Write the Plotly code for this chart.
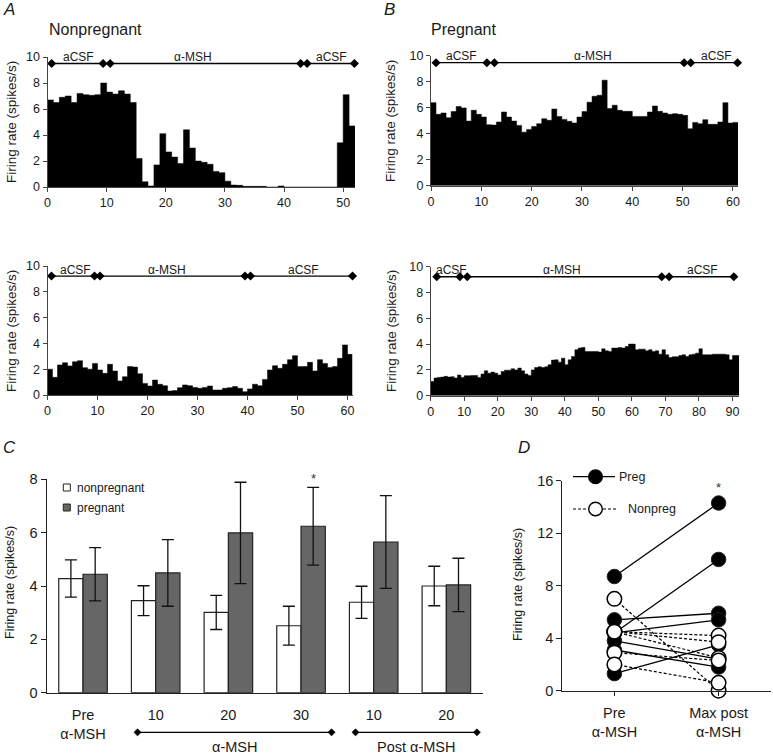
import plotly.graph_objects as go

# ---------------- data ----------------
# Panel A / B: firing-rate histograms (1-min bins), spikes/s
A_TOP_RATE = [6.7, 6.5, 6.9, 7.0, 6.5, 7.2, 7.1, 7.05, 7.1, 8.0,
              7.3, 7.15, 7.4, 7.15, 6.5, 2.2, 0.4, 0.08, 1.7, 4.1,
              2.7, 2.3, 1.8, 4.4, 3.0, 2.0, 1.9, 1.75, 1.2, 1.1,
              0.45, 0.15, 0.13, 0.05, 0.05, 0.05, 0.05, 0, 0, 0.08,
              0, 0, 0, 0, 0, 0, 0, 0, 0, 3.4,
              7.1, 4.7]
B_TOP_RATE = [6.39, 5.49, 5.59, 5.23, 5.7, 6.1, 5.98, 4.97, 5.8, 5.49,
              5.28, 4.69, 4.66, 4.9, 5.67, 5.28, 4.97, 4.64, 4.12, 4.33,
              4.56, 4.77, 5.15, 5.03, 5.9, 5.33, 5.1, 4.95, 4.82, 5.28,
              5.7, 6.42, 6.88, 6.96, 8.12, 5.93, 6.19, 5.8, 5.72, 5.72,
              5.33, 5.33, 5.33, 5.67, 6.13, 5.72, 5.59, 5.49, 5.54, 5.49,
              5.41, 4.38, 4.87, 4.77, 5.08, 4.72, 4.72, 4.9, 6.39, 4.82,
              4.87]
A_BOTTOM_RATE = [2.0, 1.37, 2.33, 2.5, 2.25, 2.58, 2.66, 2.12, 2.0, 2.45,
                 1.94, 1.68, 2.38, 1.86, 1.09, 1.42, 2.2, 2.17, 1.65, 0.9,
                 0.7, 1.16, 0.83, 0.72, 0.31, 0.34, 0.57, 0.78, 0.72, 0.59,
                 0.52, 0.59, 0.7, 0.39, 0.39, 0.52, 0.57, 0.65, 0.52, 0.26,
                 0.47, 0.83, 0.72, 1.21, 1.94, 2.27, 2.07, 2.38, 2.74, 3.05,
                 2.2, 2.2, 2.53, 1.86, 2.74, 2.45, 2.14, 2.2, 2.84, 3.88,
                 3.15]
B_BOTTOM_RATE = [1.1, 1.37, 1.42, 1.44, 1.5, 1.44, 1.47, 1.37, 1.6, 1.42,
                 1.55, 1.55, 1.57, 1.57, 1.42, 1.68, 1.93, 1.75, 1.83, 1.75,
                 1.6, 1.88, 1.98, 1.98, 2.09, 2.0, 2.14, 1.93, 1.68, 1.57,
                 2.0, 2.19, 2.24, 2.19, 2.24, 2.4, 2.76, 2.78, 2.6, 2.91,
                 2.4, 2.78, 3.04, 3.56, 3.69, 3.74, 3.43, 3.43, 3.43, 3.43,
                 3.38, 3.63, 3.48, 3.43, 3.69, 3.69, 3.74, 3.69, 3.81, 4.0,
                 4.0, 3.56, 3.61, 3.61, 3.48, 3.56, 3.43, 3.48, 3.22, 3.56,
                 3.17, 2.96, 3.02, 3.02, 3.12, 3.17, 3.04, 3.17, 3.22, 3.3,
                 3.63, 3.17, 3.17, 3.17, 3.22, 3.22, 3.22, 3.22, 3.17, 2.78,
                 3.12, 3.12]

# drug application periods: (label, start min, end min, label position min)
A_TOP_PERIODS = [("aCSF", 0.7, 9.4, 5.2), ("α-MSH", 10.6, 42.8, 24.6), ("aCSF", 43.9, 51.9, 48.1)]
B_TOP_PERIODS = [("aCSF", 1.0, 11.1, 6.1), ("α-MSH", 12.6, 50.3, 32.2), ("aCSF", 51.6, 60.9, 56.8)]
A_BOTTOM_PERIODS = [("aCSF", 0.8, 9.4, 5.5), ("α-MSH", 10.5, 39.5, 23.8), ("aCSF", 40.6, 61.0, 51.2)]
B_BOTTOM_PERIODS = [("aCSF", 1.8, 8.7, 6.3), ("α-MSH", 10.9, 68.9, 39.1), ("aCSF", 71.1, 90.4, 81.1)]

# Panel C: mean firing rate +/- SEM
C_GROUPS = ["Pre<br>α-MSH", "10", "20", "30", "10", "20"]
C_BRACKETS = [("α-MSH", 1, 3), ("Post α-MSH", 4, 5)]
NONPREG_MEAN = [4.28, 3.45, 3.01, 2.51, 3.39, 4.0]
NONPREG_SEM = [0.70, 0.56, 0.64, 0.73, 0.60, 0.74]
PREG_MEAN = [4.44, 4.49, 5.99, 6.24, 5.65, 4.04]
PREG_SEM = [1.0, 1.25, 1.9, 1.46, 1.74, 1.0]
C_SIG_INDEX = 3

# Panel D: individual cells, pre vs max post alpha-MSH
D_CATS = ["Pre<br>α-MSH", "Max post<br>α-MSH"]
D_PREG_PRE = [8.7, 4.4, 5.4, 4.4, 3.1, 1.3, 3.8]
D_PREG_MAX = [14.3, 10.0, 5.9, 5.4, 1.8, 3.5, 2.4]
D_NONPREG_PRE = [7.0, 4.5, 4.5, 4.5, 2.9, 2.0]
D_NONPREG_MAX = [0.0, 4.2, 3.7, 2.5, 2.3, 0.6]

# ---------------- layout helpers ----------------
W, H = 773, 755
FONT = "Liberation Sans, Arial, Helvetica, sans-serif"
TXT = "#1a1a1a"
AX = "#444444"


def px(x):
    return x / W


def py(y):
    return 1 - y / H


def xdom(a, b):
    return [px(a), px(b)]


def ydom(top, bottom):
    return [py(bottom), py(top)]


fig = go.Figure()
annotations = []
shapes = []

HIST = [
    dict(rates=A_TOP_RATE, periods=A_TOP_PERIODS, xd=(47.5, 355), yd=(57, 187), line_y=9.5),
    dict(rates=B_TOP_RATE, periods=B_TOP_PERIODS, xd=(431, 738), yd=(55.7, 185.7), line_y=9.46),
    dict(rates=A_BOTTOM_RATE, periods=A_BOTTOM_PERIODS, xd=(47.5, 352.5), yd=(266, 395), line_y=9.22),
    dict(rates=B_BOTTOM_RATE, periods=B_BOTTOM_PERIODS, xd=(430.7, 739.2), yd=(266.7, 395.7), line_y=9.22),
]

layout_axes = {}
for i, p in enumerate(HIST, start=1):
    xa = "x" if i == 1 else f"x{i}"
    ya = "y" if i == 1 else f"y{i}"
    rates = p["rates"]
    n = len(rates)
    # 1-min bins drawn as a filled step outline (bin edges 0..n)
    fig.add_trace(go.Scatter(
        x=list(range(n + 1)), y=rates + [rates[-1]], mode="lines", line_shape="hv",
        line=dict(color="black", width=0.5), fill="tozeroy", fillcolor="black",
        xaxis=xa, yaxis=ya, showlegend=False, hoverinfo="x+y"))
    for label, s, e, lx in p["periods"]:
        fig.add_trace(go.Scatter(
            x=[s, e], y=[p["line_y"], p["line_y"]], mode="lines+markers",
            line=dict(color="black", width=1.3),
            marker=dict(symbol="diamond", size=7, color="black"),
            cliponaxis=False, xaxis=xa, yaxis=ya, showlegend=False, hoverinfo="skip"))
        annotations.append(dict(
            x=lx, y=p["line_y"] + 0.5, xref=xa, yref=ya, text=label, showarrow=False,
            xanchor="center", yanchor="middle", font=dict(size=12, color=TXT)))
    key = "" if i == 1 else str(i)
    layout_axes["xaxis" + key] = dict(
        domain=xdom(*p["xd"]), range=[0, n], dtick=10, tick0=0, anchor=ya, automargin=False,
        showline=True, linecolor=AX, linewidth=1, ticks="outside", ticklen=4,
        tickcolor=AX, tickfont=dict(size=12.5, color=TXT), showgrid=False, zeroline=False)
    layout_axes["yaxis" + key] = dict(
        domain=ydom(*p["yd"]), range=[0, 10], dtick=2, anchor=xa, automargin=False,
        showline=True, linecolor=AX, linewidth=1, ticks="outside", ticklen=4,
        tickcolor=AX, tickfont=dict(size=12.5, color=TXT), showgrid=False, zeroline=False)

# ---------------- panel C ----------------
C_XD = (46.7, 482.7)
C_YD = (479.3, 692.7)
BAR_W = 0.334
fig.add_trace(go.Bar(
    x=list(range(len(C_GROUPS))), y=NONPREG_MEAN, width=BAR_W, offset=-BAR_W,
    marker=dict(color="white", line=dict(color="#222222", width=1.2)),
    error_y=dict(type="data", array=NONPREG_SEM, color="#111111", thickness=1.3, width=6),
    name="nonpregnant", xaxis="x5", yaxis="y5", showlegend=False))
fig.add_trace(go.Bar(
    x=list(range(len(C_GROUPS))), y=PREG_MEAN, width=BAR_W, offset=0,
    marker=dict(color="#666666", line=dict(color="#222222", width=1.2)),
    error_y=dict(type="data", array=PREG_SEM, color="#111111", thickness=1.3, width=6),
    name="pregnant", xaxis="x5", yaxis="y5", showlegend=False))
layout_axes["xaxis5"] = dict(
    domain=xdom(*C_XD), range=[-0.5, len(C_GROUPS) - 0.5], anchor="y5", automargin=False,
    tickvals=list(range(len(C_GROUPS))), ticktext=C_GROUPS, ticks="",
    ticklabelstandoff=9, tickfont=dict(size=14.5, color=TXT),
    showline=True, linecolor="#222222", linewidth=1.2, showgrid=False, zeroline=False)
layout_axes["yaxis5"] = dict(
    domain=ydom(*C_YD), range=[0, 8], dtick=2, anchor="x5", automargin=False,
    showline=True, linecolor="#222222", linewidth=1.2, ticks="outside", ticklen=5,
    tickcolor="#222222", tickfont=dict(size=14.5, color=TXT), showgrid=False, zeroline=False)

annotations.append(dict(
    x=C_SIG_INDEX + BAR_W / 2, y=PREG_MEAN[C_SIG_INDEX] + PREG_SEM[C_SIG_INDEX],
    xref="x5", yref="y5", text="*", showarrow=False, yanchor="bottom", yshift=-1,
    font=dict(size=13, color="#333333")))


def c_px(c):
    return C_XD[0] + (c + 0.5) * (C_XD[1] - C_XD[0]) / len(C_GROUPS)


def diamond(cx, cy, r=3.6):
    pts = [(cx, cy - r), (cx + r, cy), (cx, cy + r), (cx - r, cy)]
    return "M" + " L".join(f"{px(a)},{py(b)}" for a, b in pts) + " Z"


BR_Y = 732.3
for label, g0, g1 in C_BRACKETS:
    x0, x1 = c_px(g0 - 0.25), c_px(g1 + 0.42)
    shapes.append(dict(type="line", xref="paper", yref="paper", x0=px(x0), x1=px(x1),
                       y0=py(BR_Y), y1=py(BR_Y), line=dict(color="black", width=1.3)))
    for xx in (x0, x1):
        shapes.append(dict(type="path", xref="paper", yref="paper", path=diamond(xx, BR_Y),
                           fillcolor="black", line=dict(color="black", width=0.5)))
    annotations.append(dict(x=px((x0 + x1) / 2), y=py(746.5), xref="paper", yref="paper",
                            text=label, showarrow=False, xanchor="center", yanchor="middle",
                            font=dict(size=14.5, color=TXT)))

# C legend
for (top, fill, label) in [(484, "white", "nonpregnant"), (504, "#666666", "pregnant")]:
    shapes.append(dict(type="rect", xref="paper", yref="paper", x0=px(63.3), x1=px(70.3),
                       y0=py(top + 7), y1=py(top), fillcolor=fill,
                       line=dict(color="#222222", width=1)))
    annotations.append(dict(x=px(75), y=py(top + 3.5), xref="paper", yref="paper", text=label,
                            showarrow=False, xanchor="left", yanchor="middle",
                            font=dict(size=12, color=TXT)))

# ---------------- panel D ----------------
D_XD = (562.3, 770.7)
D_YD = (480.7, 690.7)


def pair_lines(pre, post):
    xs, ys = [], []
    for a, b in zip(pre, post):
        xs += [0, 1, None]
        ys += [a, b, None]
    return xs, ys


lx, ly = pair_lines(D_PREG_PRE, D_PREG_MAX)
fig.add_trace(go.Scatter(x=lx, y=ly, mode="lines", line=dict(color="black", width=1.3),
                         xaxis="x6", yaxis="y6", showlegend=False, hoverinfo="skip"))
lx, ly = pair_lines(D_NONPREG_PRE, D_NONPREG_MAX)
fig.add_trace(go.Scatter(x=lx, y=ly, mode="lines", line=dict(color="black", width=1.2, dash="3px,2px"),
                         xaxis="x6", yaxis="y6", showlegend=False, hoverinfo="skip"))
fig.add_trace(go.Scatter(
    x=[0] * len(D_PREG_PRE) + [1] * len(D_PREG_MAX), y=D_PREG_PRE + D_PREG_MAX,
    mode="markers", marker=dict(size=14.5, color="black", line=dict(color="#222222", width=1)),
    cliponaxis=False, xaxis="x6", yaxis="y6", name="Preg", showlegend=False))
fig.add_trace(go.Scatter(
    x=[0] * len(D_NONPREG_PRE) + [1] * len(D_NONPREG_MAX), y=D_NONPREG_PRE + D_NONPREG_MAX,
    mode="markers", marker=dict(size=14.5, color="white", line=dict(color="black", width=1.5)),
    cliponaxis=False, xaxis="x6", yaxis="y6", name="Nonpreg", showlegend=False))
layout_axes["xaxis6"] = dict(
    domain=xdom(*D_XD), range=[-0.5, 1.5], anchor="y6", tickvals=[0, 1], ticktext=D_CATS,
    ticks="outside", ticklen=4, tickcolor="#222222", ticklabelstandoff=5, automargin=False,
    tickfont=dict(size=14.5, color=TXT),
    showline=True, linecolor="#222222", linewidth=1.2, showgrid=False, zeroline=False)
layout_axes["yaxis6"] = dict(
    domain=ydom(*D_YD), range=[0, 16], dtick=4, anchor="x6", automargin=False,
    showline=True, linecolor="#222222", linewidth=1.2, ticks="outside", ticklen=5,
    tickcolor="#222222", tickfont=dict(size=14.5, color=TXT), showgrid=False, zeroline=False)
annotations.append(dict(x=1, y=max(D_PREG_MAX), xref="x6", yref="y6", text="*", showarrow=False,
                        yanchor="bottom", yshift=6, font=dict(size=13, color="#333333")))

# D legend
for (yy, x_end, text_x, fill, dash, label) in [
        (476.7, 615, 617, "black", "solid", "Preg"),
        (509.0, 616, 626, "white", "3px,2px", "Nonpreg")]:
    shapes.append(dict(type="line", xref="paper", yref="paper", x0=px(573), x1=px(x_end),
                       y0=py(yy), y1=py(yy), line=dict(color="black", width=1.2, dash=dash)))
    r = 6.8
    shapes.append(dict(type="circle", xref="paper", yref="paper", x0=px(595.5 - r), x1=px(595.5 + r),
                       y0=py(yy + r), y1=py(yy - r), fillcolor=fill,
                       line=dict(color="black", width=1.4)))
    annotations.append(dict(x=px(text_x), y=py(yy), xref="paper", yref="paper", text=label,
                            showarrow=False, xanchor="left", yanchor="middle",
                            font=dict(size=12.5, color=TXT)))

# ---------------- titles and labels ----------------
YT = "Firing rate (spikes/s)"
for (x, y, size) in [(11, 122, 13.5), (391, 121, 13.5), (11, 331, 13.5), (391, 331, 13.5),
                     (10, 583, 12.5), (518, 585, 12.5)]:
    annotations.append(dict(x=px(x), y=py(y), xref="paper", yref="paper", text=YT, textangle=-90,
                            showarrow=False, xanchor="center", yanchor="middle",
                            font=dict(size=size, color=TXT)))

for (x, y, t) in [(1, 10, "A"), (382, 10, "B"), (1, 447, "C"), (516, 447, "D")]:
    annotations.append(dict(x=px(x), y=py(y), xref="paper", yref="paper", text=f"<i>{t}</i>",
                            showarrow=False, xanchor="left", yanchor="middle",
                            font=dict(size=17, color=TXT)))
for (x, y, t) in [(47, 30, "Nonpregnant"), (429, 30, "Pregnant")]:
    annotations.append(dict(x=px(x), y=py(y), xref="paper", yref="paper", text=t,
                            showarrow=False, xanchor="left", yanchor="middle",
                            font=dict(size=16, color=TXT)))

fig.update_layout(
    template="none",
    width=W, height=H, margin=dict(l=0, r=0, t=0, b=0, pad=0, autoexpand=False),
    paper_bgcolor="white", plot_bgcolor="white", showlegend=False, barmode="overlay",
    font=dict(family=FONT, color=TXT), annotations=annotations, shapes=shapes,
    **layout_axes)

fig.write_html(
    "out.html",
    config={"displayModeBar": False},
    post_script="document.body.style.margin='0px';document.body.style.overflow='hidden';")
